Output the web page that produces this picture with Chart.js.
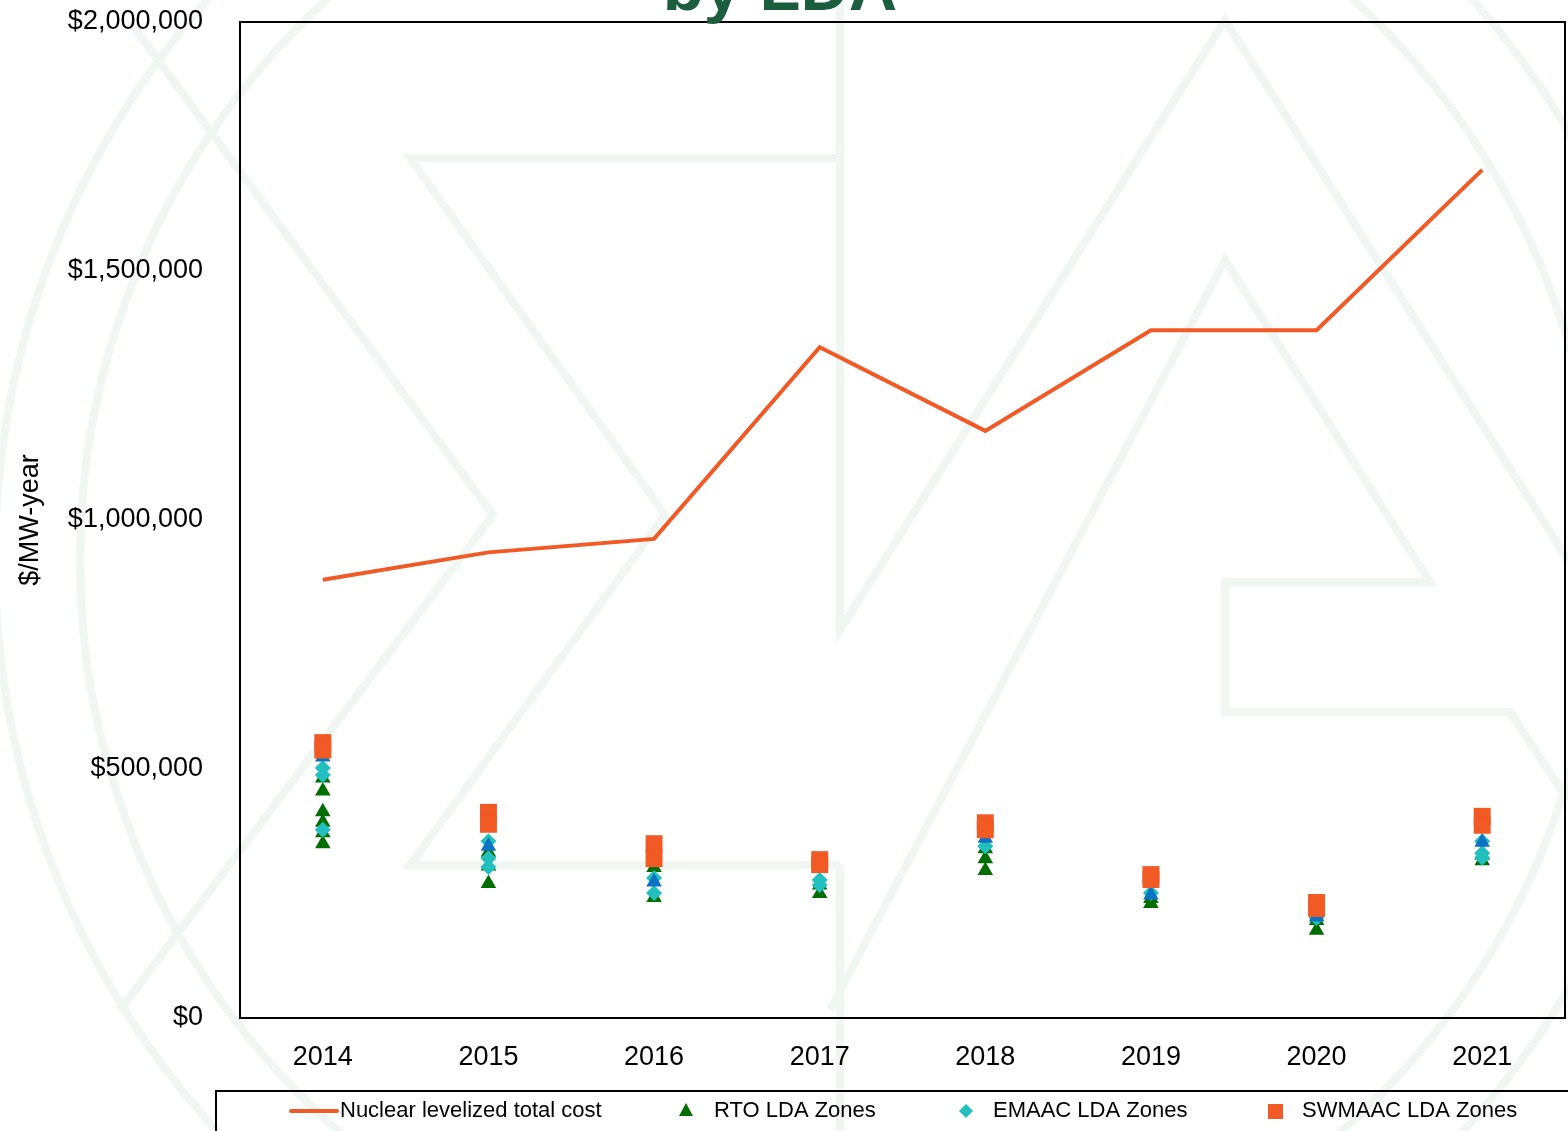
<!DOCTYPE html>
<html>
<head>
<meta charset="utf-8">
<script src="https://cdn.jsdelivr.net/npm/chart.js@4.4.1/dist/chart.umd.min.js"></script>
<style>
html,body{margin:0;padding:0;background:#fff;overflow:hidden}
canvas{display:block}
</style>
</head>
<body>
<canvas id="c" width="1568" height="1131"></canvas>
<script>
// ---------- DATA ----------
const years = ['2014', '2015', '2016', '2017', '2018', '2019', '2020', '2021'];
const yTicks = [0, 500000, 1000000, 1500000, 2000000];

const nuclearCost = [880000, 935000, 962000, 1347000, 1179000, 1381000, 1381000, 1703000];

// [year, $/MW-year]
const rtoZones = [
  [2014, 482000], [2014, 456000], [2014, 414000], [2014, 393000], [2014, 372000], [2014, 350000],
  [2015, 333000], [2015, 305000], [2015, 270000],
  [2016, 302000], [2016, 242000],
  [2017, 267000], [2017, 250000],
  [2018, 340000], [2018, 320000], [2018, 296000],
  [2019, 240000], [2019, 230000],
  [2020, 196000], [2020, 176000],
  [2021, 327000], [2021, 316000]
];
const emaacZones = [
  [2014, 502000], [2014, 488000], [2014, 378000],
  [2015, 355000], [2015, 321000], [2015, 303000],
  [2016, 281000], [2016, 251000],
  [2017, 277000], [2017, 267000],
  [2018, 345000],
  [2019, 251000],
  [2020, 201000],
  [2021, 355000], [2021, 331000], [2021, 322000]
];
const otherZones = [
  [2014, 524000],
  [2015, 345000],
  [2016, 273000],
  [2018, 361000],
  [2019, 247000],
  [2020, 203000],
  [2021, 353000]
];
const swmaacZones = [
  [2014, 553000], [2014, 538000],
  [2015, 413000], [2015, 389000],
  [2016, 350000], [2016, 320000],
  [2017, 318000], [2017, 308000],
  [2018, 392000], [2018, 378000],
  [2019, 288000], [2019, 278000],
  [2020, 232000], [2020, 220000],
  [2021, 405000], [2021, 387000]
];

// ---------- STYLE ----------
const ORANGE = '#F15A24';
const GREEN = '#006E00';
const CYAN = '#22BFBF';
const BLUE = '#0B72C4';
const TITLE_GREEN = '#1B5E3E';
const WATER = '#F0F6F2';
const FONT = '"Liberation Sans", Arial, sans-serif';

const toPts = arr => arr.map(([yr, v]) => ({ x: String(yr), y: v }));
const money = v => '$' + Number(v).toLocaleString('en-US');

const bgPlugin = {
  id: 'bg',
  beforeDraw(chart) {
    const ctx = chart.ctx;
    ctx.save();
    ctx.fillStyle = '#fff';
    ctx.fillRect(0, 0, chart.width, chart.height);
    ctx.strokeStyle = WATER;
    ctx.lineWidth = 8;
    ctx.lineJoin = 'miter';
    const poly = pts => { ctx.beginPath(); ctx.moveTo(pts[0][0], pts[0][1]); for (let i = 1; i < pts.length; i++) ctx.lineTo(pts[i][0], pts[i][1]); ctx.stroke(); };
    ctx.beginPath(); ctx.arc(840, 560, 760, 0, Math.PI * 2); ctx.stroke();
    ctx.beginPath(); ctx.arc(840, 560, 845, 0, Math.PI * 2); ctx.stroke();
    poly([[840, 158], [410, 158], [665, 515], [410, 865], [840, 865]]);
    poly([[130, 22], [493, 515], [120, 1010]]);
    poly([[840, 0], [840, 630], [1225, 20], [1568, 560]]);
    poly([[840, 865], [840, 1131]]);
    poly([[830, 1010], [1225, 260], [1430, 582], [1225, 582], [1225, 712], [1510, 712], [1568, 800]]);
    ctx.restore();
  }
};

const overlayPlugin = {
  id: 'overlay',
  afterDraw(chart) {
    const ctx = chart.ctx;
    const a = chart.chartArea;
    ctx.save();
    ctx.strokeStyle = '#000';
    ctx.lineWidth = 2;
    ctx.strokeRect(a.left, a.top, a.right - a.left, a.bottom - a.top);
    ctx.fillStyle = TITLE_GREEN;
    ctx.font = 'bold 67px ' + FONT;
    ctx.textAlign = 'center';
    ctx.textBaseline = 'alphabetic';
    ctx.fillText('by LDA', 780, 10);
    ctx.strokeStyle = '#000';
    ctx.lineWidth = 2;
    ctx.strokeRect(216, 1091, 1400, 100);
    const ly = 1111;
    ctx.font = '22px ' + FONT;
    ctx.textAlign = 'left';
    ctx.textBaseline = 'middle';
    ctx.strokeStyle = ORANGE; ctx.lineWidth = 4; ctx.lineCap = 'round';
    ctx.beginPath(); ctx.moveTo(291, ly); ctx.lineTo(337, ly); ctx.stroke();
    ctx.fillStyle = '#000';
    ctx.fillText('Nuclear levelized total cost', 340, ly);
    ctx.fillStyle = GREEN;
    ctx.beginPath(); ctx.moveTo(686, ly - 8); ctx.lineTo(693, ly + 5); ctx.lineTo(679, ly + 5); ctx.closePath(); ctx.fill();
    ctx.fillStyle = '#000';
    ctx.fillText('RTO LDA Zones', 714, ly);
    ctx.fillStyle = CYAN;
    ctx.beginPath(); ctx.moveTo(966, ly - 7); ctx.lineTo(973, ly); ctx.lineTo(966, ly + 7); ctx.lineTo(959, ly); ctx.closePath(); ctx.fill();
    ctx.fillStyle = '#000';
    ctx.fillText('EMAAC LDA Zones', 993, ly);
    ctx.fillStyle = ORANGE;
    ctx.fillRect(1268, ly - 7, 15, 15);
    ctx.fillStyle = '#000';
    ctx.fillText('SWMAAC LDA Zones', 1302, ly);
    ctx.restore();
  }
};

const pointSet = (label, arr, color, style, radius, order) => ({
  label, data: toPts(arr), showLine: false, order,
  pointStyle: style, pointRadius: radius, pointHoverRadius: radius,
  backgroundColor: color, borderColor: color,
  pointBackgroundColor: color, pointBorderColor: color, pointBorderWidth: 0
});

new Chart(document.getElementById('c').getContext('2d'), {
  type: 'line',
  data: {
    labels: years,
    datasets: [
      { label: 'Nuclear levelized total cost', data: nuclearCost, borderColor: ORANGE, backgroundColor: ORANGE,
        borderWidth: 4, pointRadius: 0, tension: 0, order: 0, borderJoinStyle: 'miter' },
      pointSet('SWMAAC LDA Zones', swmaacZones, ORANGE, 'rect', 12, 1),
      pointSet('Other LDA Zones', otherZones, BLUE, 'triangle', 9, 2),
      pointSet('EMAAC LDA Zones', emaacZones, CYAN, 'rectRot', 8, 3),
      pointSet('RTO LDA Zones', rtoZones, GREEN, 'triangle', 9, 4)
    ]
  },
  options: {
    responsive: false,
    animation: false,
    devicePixelRatio: 1,
    layout: { autoPadding: false, padding: { top: 22, right: 3, left: 0, bottom: 0 } },
    plugins: { legend: { display: false }, tooltip: { enabled: false }, title: { display: false } },
    scales: {
      x: {
        type: 'category', offset: true,
        grid: { display: false, drawTicks: false },
        border: { display: false },
        ticks: { color: '#000', font: { family: FONT, size: 27 }, padding: 23, maxRotation: 0 },
        afterFit: s => { s.height = 113; s.paddingLeft = 0; s.paddingRight = 0; }
      },
      y: {
        min: 0, max: 2000000,
        afterBuildTicks: s => { s.ticks = yTicks.map(v => ({ value: v })); },
        grid: { display: false, drawTicks: false },
        border: { display: false },
        ticks: { color: '#000', font: { family: FONT, size: 27 }, padding: 37, callback: v => money(v) },
        title: { display: true, text: '$/MW-year', color: '#000', font: { family: FONT, size: 27 }, padding: { top: 14, bottom: 0 } },
        afterFit: s => { s.width = 240; s.paddingTop = 0; s.paddingBottom = 0; }
      }
    }
  },
  plugins: [bgPlugin, overlayPlugin]
});
</script>
</body>
</html>
